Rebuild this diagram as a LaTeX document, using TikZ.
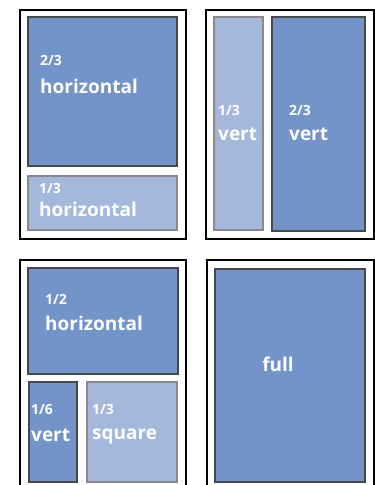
\documentclass[tikz,border=0pt]{standalone}
\usepackage{fontspec}
\setmainfont{Open Sans}
\usepackage{tikz}

\definecolor{panedark}{RGB}{115,148,201}
\definecolor{panelight}{RGB}{164,184,220}
\definecolor{edgedark}{RGB}{72,72,72}
\definecolor{edgelight}{RGB}{138,138,138}

\begin{document}
\begin{tikzpicture}[x=1pt, y=-1pt,
    pagebox/.style={draw=black, line width=2pt},
    darkpane/.style={draw=edgedark, fill=panedark, line width=1.6pt},
    lightpane/.style={draw=edgelight, fill=panelight, line width=1.6pt},
    fraclbl/.style={text=white, font=\bfseries\fontsize{14}{14}\selectfont, inner sep=0pt, anchor=base west},
    wordlbl/.style={text=white, font=\bfseries\fontsize{19}{19}\selectfont, inner sep=0pt, anchor=base west}]

    \useasboundingbox (0,0) rectangle (375,485);

    % Page frames
    \draw[pagebox] (19.5,9.5) rectangle (186,239);
    \draw[pagebox] (205.5,9.5) rectangle (373.5,239);
    \draw[pagebox] (19.5,259.5) rectangle (186,492);
    \draw[pagebox] (207,259.5) rectangle (373.5,492);

    % First page: two horizontal panes
    \draw[darkpane] (28,17) rectangle (177,166);
    \draw[lightpane] (28,176) rectangle (177,230);
    \node[fraclbl] (ahalf) at (40,65) {2/3};
    \node[wordlbl] (aword) at (40,93) {horizontal};
    \node[fraclbl] (bhalf) at (39,193) {1/3};
    \node[wordlbl] (bword) at (39,216) {horizontal};

    % Second page: two vertical panes
    \draw[lightpane] (214,17) rectangle (263,230);
    \draw[darkpane] (272,17) rectangle (365,231);
    \node[fraclbl] (chalf) at (218,115) {1/3};
    \node[wordlbl] (cword) at (218,140) {vert};
    \node[fraclbl] (dhalf) at (289,115) {2/3};
    \node[wordlbl] (dword) at (289,140) {vert};

    % Third page: half, sixth and third
    \draw[darkpane] (28,268) rectangle (178,374);
    \draw[darkpane] (29,382) rectangle (77,482);
    \draw[lightpane] (87,382) rectangle (177,482);
    \node[fraclbl] (ehalf) at (45,304) {1/2};
    \node[wordlbl] (eword) at (45,330) {horizontal};
    \node[fraclbl] (fhalf) at (31,414) {1/6};
    \node[wordlbl] (fword) at (31,441) {vert};
    \node[fraclbl] (ghalf) at (92,414) {1/3};
    \node[wordlbl] (gword) at (92,439) {square};

    % Fourth page: full pane
    \draw[darkpane] (215,269) rectangle (365,482);
    \node[wordlbl, anchor=base] (hword) at (278,371) {full};
\end{tikzpicture}
\end{document}
